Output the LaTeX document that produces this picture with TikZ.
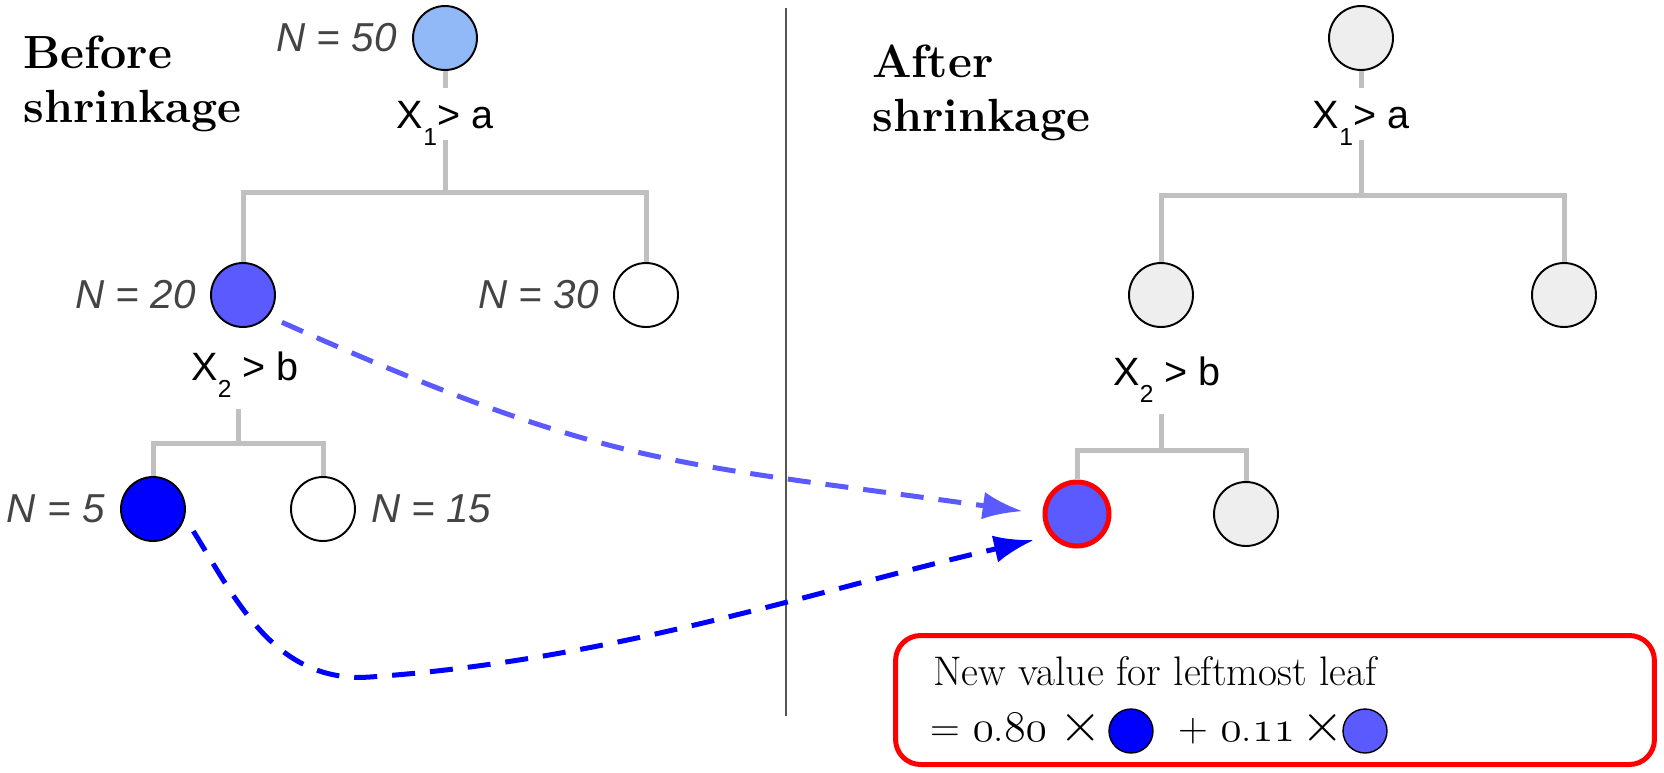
\documentclass[tikz,border=0pt]{standalone}
\usepackage{fontspec}
\setsansfont{Liberation Sans}
\usetikzlibrary{positioning}
\usetikzlibrary{arrows.meta}
\definecolor{treeline}{RGB}{192,192,192}
\definecolor{rootblue}{RGB}{145,185,248}
\definecolor{midblue}{RGB}{90,90,255}
\definecolor{deepblue}{RGB}{0,0,255}
\definecolor{leafgray}{RGB}{238,238,238}
\definecolor{labelgray}{RGB}{68,68,68}
\definecolor{divgray}{RGB}{85,85,85}
\newcommand{\lowsub}[1]{\raisebox{-0.43em}{\fontsize{14}{14}\selectfont #1}}
\newcommand{\osf}[1]{{\fontsize{26}{26}\usefont{OML}{lmm}{m}{it}#1}}
\newcommand{\crossx}{\scalebox{1.25}{$\times$}}

\begin{document}
\begin{tikzpicture}[
    x=0.02cm, y=-0.02cm,
    treenode/.style={circle, draw=black, line width=1.1pt, minimum size=1.28cm, inner sep=0pt},
    branch/.style={draw=treeline, line width=0.1cm},
    nlabel/.style={font=\sffamily\itshape\fontsize{23}{27}\selectfont, text=labelgray, inner sep=0pt},
    split/.style={font=\sffamily\fontsize{22.5}{27}\selectfont, inner xsep=0pt, inner ysep=0.24cm},
    headline/.style={font=\bfseries\fontsize{26.5}{30.2}\selectfont, align=left, anchor=north west, inner sep=0pt},
    formula/.style={font=\fontsize{23.5}{28}\selectfont, inner sep=0pt, anchor=base west},
    coin/.style={circle, draw=black, line width=0.8pt, minimum size=0.88cm, inner sep=0pt},
    shrinkarrow/.style={line width=0.1cm, dash pattern=on 0.46cm off 0.3cm, -{Latex[length=0.8cm,width=0.55cm]}},
    >=latex
]
    \useasboundingbox (0,0) rectangle (1664,772);

    % before shrinkage
    \node[headline] (before) at (23,36) {Before\\shrinkage};

    \node[treenode, fill=rootblue] (n50) at (445,38) {};
    \node[nlabel, left=0.3cm of n50] {N = 50};
    \node[split, text depth=0pt, anchor=base] (s1) at (445,128) {X\lowsub{1}> a};
    \coordinate (j1) at (445,192);

    \node[treenode, fill=midblue] (n20) at (243,295) {};
    \node[nlabel, left=0.28cm of n20] {N = 20};
    \node[treenode, fill=white] (n30) at (646,295) {};
    \node[nlabel, left=0.28cm of n30] {N = 30};

    \node[split, anchor=base] (s2) at (245,380) {X\lowsub{2} > b};
    \coordinate (j2) at (238,443);

    \node[treenode, fill=deepblue] (n5) at (153,509) {};
    \node[nlabel, left=0.3cm of n5] {N = 5};
    \node[treenode, fill=white] (n15) at (323,509) {};
    \node[nlabel, right=0.3cm of n15] {N = 15};

    \draw[branch] (n50) -- (s1);
    \draw[branch] (s1) -- (j1);
    \draw[branch] (n20) |- (j1) -| (n30);
    \draw[branch] (s2.south -| j2) -- (j2);
    \draw[branch] (n5) |- (j2) -| (n15);

    % divider
    \draw[divgray, line width=0.8pt] (786,8) -- (786,716);

    % after shrinkage
    \node[headline] (after) at (872,45) {After\\shrinkage};

    \node[treenode, fill=leafgray] (r1) at (1361,38) {};
    \node[split, text depth=0pt, anchor=base] (s3) at (1361,128) {X\lowsub{1}> a};
    \coordinate (j3) at (1361,195);

    \node[treenode, fill=leafgray] (r2) at (1161,295) {};
    \node[treenode, fill=leafgray] (r3) at (1564,295) {};

    \node[split, anchor=base] (s4) at (1167,385) {X\lowsub{2} > b};
    \coordinate (j4) at (1161,450);

    \node[treenode, fill=midblue, draw=red, line width=0.1cm] (r5) at (1077,514) {};
    \node[treenode, fill=leafgray] (r6) at (1246,514) {};

    \draw[branch] (r1) -- (s3);
    \draw[branch] (s3) -- (j3);
    \draw[branch] (r2) |- (j3) -| (r3);
    \draw[branch] (s4.south -| j4) -- (j4);
    \draw[branch] (r5) |- (j4) -| (r6);

    % arrows into the shrunk leaf
    \coordinate (dip) at (370,677);
    \draw[shrinkarrow, midblue, shorten <=0.3cm, shorten >=0.4cm]
        (n20.-40) to[out=-24, in=172, looseness=1.2] (r5.west);
    \draw[shrinkarrow, deepblue, shorten <=0.32cm, shorten >=0.34cm]
        (n5.-15) to[out=-58, in=184] (dip) to[out=4, in=193, looseness=0.9] (r5.220);

    % formula box
    \node[draw=red, line width=0.1cm, rounded corners=0.5cm,
          minimum width=15.18cm, minimum height=2.58cm] (fbox) at (1275,700) {};
    \node[formula] (line1) at (933,685) {New value for leftmost leaf};
    \node[formula] (eq1) at (930,741) {= \osf{0}.\osf{80} \crossx};
    \node[coin, fill=deepblue] (c1) at (1131,731) {};
    \node[formula] (eq2) at (1178,741) {+\hspace{0.3em}\osf{0}.\osf{11}\hspace{0.15em}\crossx};
    \node[coin, fill=midblue] (c2) at (1365,731) {};
\end{tikzpicture}
\end{document}
